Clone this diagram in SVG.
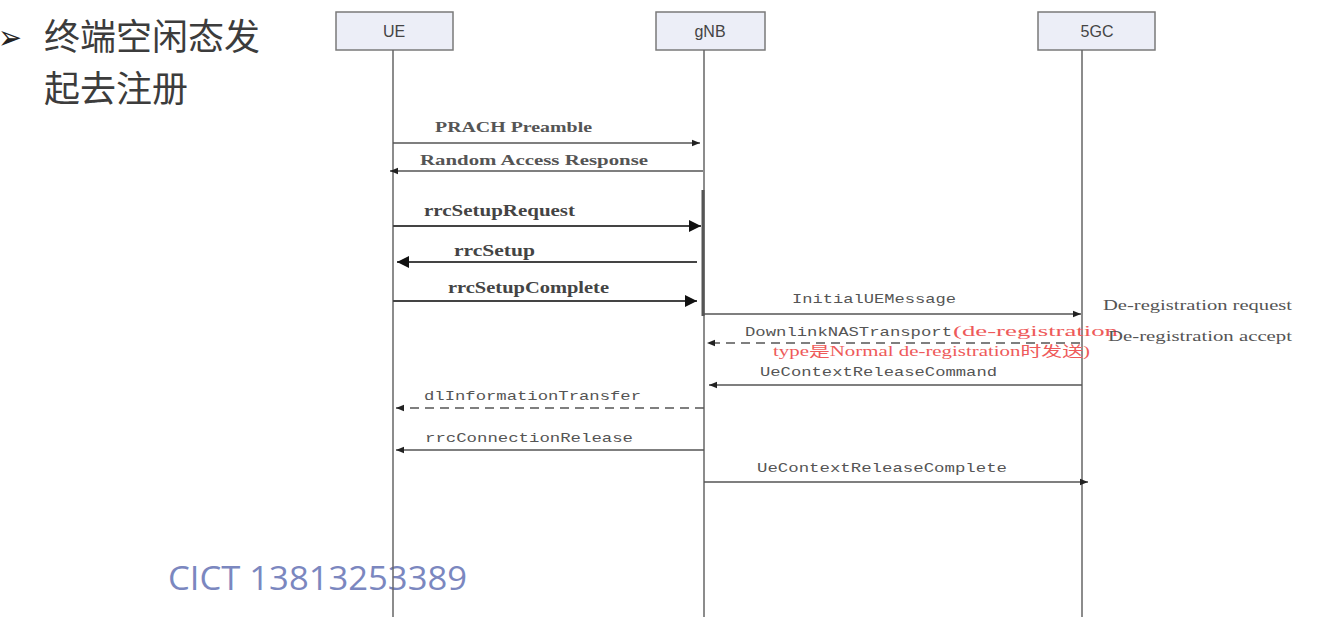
<svg xmlns="http://www.w3.org/2000/svg" width="1318" height="617" viewBox="0 0 1318 617">
<defs>
<style>
.box{fill:#eceef7;stroke:#7a7a7a;stroke-width:1.5}
.bt{font-family:"Liberation Sans",Arial,sans-serif;font-size:16px;fill:#444;text-anchor:middle}
.life{stroke:#666;stroke-width:1.5;fill:none}
.msg{stroke:#555;stroke-width:1.3;fill:none}
.thick{stroke:#444;stroke-width:2;fill:none}
.dash{stroke-dasharray:9 6}
.ls{font-family:"Liberation Serif","Times New Roman",serif;font-weight:bold;font-size:14px;fill:#555}
.lb{font-family:"Liberation Serif","Times New Roman",serif;font-weight:bold;font-size:17px;fill:#444}
.lm{font-family:"Liberation Mono","DejaVu Sans Mono",monospace;font-size:13px;fill:#555}
.ln{font-family:"Liberation Serif","Times New Roman",serif;font-size:14px;fill:#555}
.red{font-family:"Liberation Serif","Noto Sans CJK SC",serif;font-size:14px;fill:#ee5a5a}
.title{font-family:"Noto Sans CJK SC",sans-serif;font-size:36px;fill:#3c3c3c}
.bul{font-family:"DejaVu Sans",sans-serif;font-size:34px;fill:#222}
.wm{font-family:"Open Sans","Noto Sans",sans-serif;font-size:33px;fill:#7b87bf}
</style>
<marker id="ah" viewBox="0 0 10 10" refX="10" refY="5" markerWidth="12" markerHeight="8" markerUnits="userSpaceOnUse" orient="auto"><path d="M0,1 L10,5 L0,9 z" fill="#222"/></marker>
<marker id="ahb" viewBox="0 0 10 10" refX="10" refY="5" markerWidth="20" markerHeight="12" markerUnits="userSpaceOnUse" orient="auto"><path d="M0,0 L10,5 L0,10 z" fill="#111"/></marker>
</defs>
<rect width="1318" height="617" fill="#fff"/>
<g id="title">
<text class="bul" x="-2" y="49" textLength="24" lengthAdjust="spacingAndGlyphs">➢</text>
<text class="title" x="44" y="50">终端空闲态发</text>
<text class="title" x="44" y="102">起去注册</text>
</g>
<g id="watermark"><text class="wm" x="168" y="590" textLength="299" lengthAdjust="spacingAndGlyphs">CICT 13813253389</text></g>
<g id="UE">
<rect class="box" x="336" y="12" width="117" height="38"/>
<text class="bt" x="394" y="37">UE</text>
<line class="life" x1="393" y1="50" x2="393" y2="617"/>
</g>
<g id="gNB">
<rect class="box" x="656" y="12" width="109" height="38"/>
<text class="bt" x="710" y="37">gNB</text>
<line class="life" x1="704" y1="50" x2="704" y2="617"/>
<line stroke="#555" stroke-width="3" x1="703" y1="190" x2="703" y2="316"/>
</g>
<g id="5GC">
<rect class="box" x="1038" y="12" width="117" height="38"/>
<text class="bt" x="1097" y="37">5GC</text>
<line class="life" x1="1082" y1="50" x2="1082" y2="617"/>
</g>
<g id="connectors">
<line class="msg" x1="393" y1="143" x2="700" y2="143" marker-end="url(#ah)"/>
<line class="msg" x1="703" y1="171" x2="390" y2="171" marker-end="url(#ah)"/>
<line class="thick" x1="393" y1="226" x2="701" y2="226" marker-end="url(#ahb)"/>
<line class="thick" x1="697" y1="262" x2="397" y2="262" marker-end="url(#ahb)"/>
<line class="thick" x1="393" y1="301" x2="697" y2="301" marker-end="url(#ahb)"/>
<line class="msg" x1="704" y1="314" x2="1081" y2="314" marker-end="url(#ah)"/>
<line class="msg dash" x1="1080" y1="343" x2="707" y2="343" marker-end="url(#ah)"/>
<line class="msg" x1="1082" y1="385" x2="709" y2="385" marker-end="url(#ah)"/>
<line class="msg dash" x1="704" y1="408" x2="396" y2="408" marker-end="url(#ah)"/>
<line class="msg" x1="704" y1="450" x2="396" y2="450" marker-end="url(#ah)"/>
<line class="msg" x1="704" y1="482" x2="1088" y2="482" marker-end="url(#ah)"/>
</g>
<g id="labels">
<text class="ls" x="435" y="132" textLength="157" lengthAdjust="spacingAndGlyphs">PRACH Preamble</text>
<text class="ls" x="420" y="165" textLength="228" lengthAdjust="spacingAndGlyphs">Random Access Response</text>
<text class="lb" x="424" y="216" textLength="151" lengthAdjust="spacingAndGlyphs">rrcSetupRequest</text>
<text class="lb" x="454" y="256" textLength="81" lengthAdjust="spacingAndGlyphs">rrcSetup</text>
<text class="lb" x="448" y="293" textLength="161" lengthAdjust="spacingAndGlyphs">rrcSetupComplete</text>
<text class="lm" x="792" y="303" textLength="164" lengthAdjust="spacingAndGlyphs">InitialUEMessage</text>
<text class="ln" x="1103" y="310" textLength="189" lengthAdjust="spacingAndGlyphs">De-registration request</text>
<text class="lm" x="745" y="336" textLength="207" lengthAdjust="spacingAndGlyphs">DownlinkNASTransport</text>
<text class="red" x="953" y="336" textLength="165" lengthAdjust="spacingAndGlyphs">(de-registration</text>
<text class="ln" x="1108" y="341" textLength="184" lengthAdjust="spacingAndGlyphs">De-registration accept</text>
<text class="red" x="773" y="356" textLength="317" lengthAdjust="spacingAndGlyphs">type是Normal de-registration时发送)</text>
<text class="lm" x="760" y="376" textLength="237" lengthAdjust="spacingAndGlyphs">UeContextReleaseCommand</text>
<text class="lm" x="424" y="400" textLength="217" lengthAdjust="spacingAndGlyphs">dlInformationTransfer</text>
<text class="lm" x="425" y="442" textLength="208" lengthAdjust="spacingAndGlyphs">rrcConnectionRelease</text>
<text class="lm" x="757" y="472" textLength="250" lengthAdjust="spacingAndGlyphs">UeContextReleaseComplete</text>
</g>
</svg>
